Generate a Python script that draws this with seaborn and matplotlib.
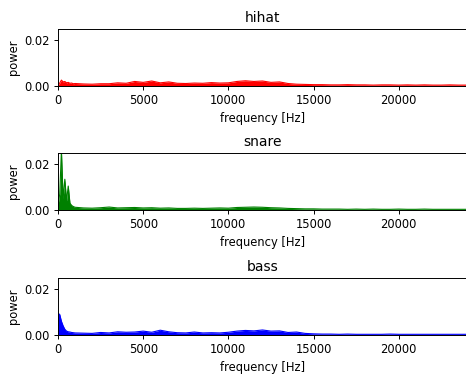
import numpy as np
import matplotlib
matplotlib.use("Agg")
import matplotlib.pyplot as plt
import seaborn as sns


freqs = [0, 100, 200, 300, 400, 500, 600, 700, 800, 900, 1000,
         1500, 2000, 2500, 3000, 3500, 4000, 4500, 5000, 5500, 6000,
         6500, 7000, 7500, 8000, 8500, 9000, 9500, 10000, 10500, 11000,
         11500, 12000, 12500, 13000, 13500, 14000, 14500, 15000, 15500, 16000,
         16500, 17000, 17500, 18000, 18500, 19000, 19500, 20000, 20500, 21000,
         21500, 22000, 22500, 23000, 23500, 24000]

hihat = [0.0005, 0.0013, 0.0026, 0.0018, 0.0020, 0.0014, 0.0016, 0.0012, 0.0013, 0.0010, 0.0011,
         0.0009, 0.0008, 0.0010, 0.0010, 0.0014, 0.0012, 0.0020, 0.0016, 0.0022, 0.0014,
         0.0018, 0.0012, 0.0011, 0.0013, 0.0012, 0.0015, 0.0013, 0.0014, 0.0020, 0.0023,
         0.0020, 0.0022, 0.0016, 0.0018, 0.0011, 0.0008, 0.0007, 0.0006, 0.0006, 0.0005,
         0.0005, 0.0006, 0.0005, 0.0005, 0.0004, 0.0005, 0.0005, 0.0004, 0.0005, 0.0004,
         0.0005, 0.0004, 0.0004, 0.0005, 0.0004, 0.0004]

snare = [0.0020, 0.0070, 0.0260, 0.0050, 0.0135, 0.0040, 0.0105, 0.0030, 0.0020, 0.0015, 0.0012,
         0.0009, 0.0008, 0.0010, 0.0013, 0.0009, 0.0010, 0.0011, 0.0009, 0.0010, 0.0008,
         0.0009, 0.0007, 0.0007, 0.0008, 0.0007, 0.0008, 0.0009, 0.0008, 0.0011, 0.0012,
         0.0013, 0.0012, 0.0010, 0.0009, 0.0007, 0.0006, 0.0005, 0.0005, 0.0004, 0.0004,
         0.0004, 0.0003, 0.0004, 0.0003, 0.0004, 0.0003, 0.0003, 0.0004, 0.0003, 0.0003,
         0.0004, 0.0003, 0.0003, 0.0003, 0.0003, 0.0003]

bass = [0.0095, 0.0090, 0.0060, 0.0040, 0.0025, 0.0017, 0.0014, 0.0013, 0.0011, 0.0010, 0.0009,
        0.0008, 0.0007, 0.0011, 0.0009, 0.0014, 0.0012, 0.0013, 0.0017, 0.0012, 0.0021,
        0.0014, 0.0010, 0.0009, 0.0013, 0.0009, 0.0010, 0.0009, 0.0012, 0.0017, 0.0020,
        0.0018, 0.0022, 0.0017, 0.0018, 0.0011, 0.0013, 0.0007, 0.0005, 0.0004, 0.0004,
        0.0003, 0.0004, 0.0003, 0.0003, 0.0003, 0.0003, 0.0004, 0.0003, 0.0003, 0.0003,
        0.0003, 0.0003, 0.0003, 0.0003, 0.0003, 0.0003]

series = [("hihat", hihat, "red"), ("snare", snare, "green"), ("bass", bass, "blue")]
bottoms = [0.770, 0.4385, 0.1043]

plt.rcParams["font.size"] = 8.3
plt.rcParams["axes.linewidth"] = 0.7
plt.rcParams["xtick.major.size"] = 2.9
plt.rcParams["ytick.major.size"] = 2.9
plt.rcParams["xtick.major.width"] = 0.7
plt.rcParams["ytick.major.width"] = 0.7
plt.rcParams["xtick.major.pad"] = 2.9
plt.rcParams["ytick.major.pad"] = 2.9
plt.rcParams["axes.labelpad"] = 3.3
plt.rcParams["axes.titlepad"] = 5

fig = plt.figure(figsize=(4.66, 3.74), dpi=100)

for (name, vals, color), b in zip(series, bottoms):
    ax = fig.add_axes([0.1245, b, 0.8775, 0.1524])
    sns.lineplot(x=freqs, y=vals, color=color, linewidth=0.8, ax=ax)
    ax.fill_between(freqs, 0, vals, color=color, linewidth=0)
    ax.set_xlim(0, 24000)
    ax.set_ylim(0, 0.025)
    ax.set_xticks([0, 5000, 10000, 15000, 20000])
    ax.set_yticks([0.0, 0.02])
    ax.set_yticklabels(["0.00", "0.02"])
    ax.set_title(name)
    ax.set_xlabel("frequency [Hz]")
    ax.set_ylabel("power")

fig.savefig("out.png", dpi=100)
